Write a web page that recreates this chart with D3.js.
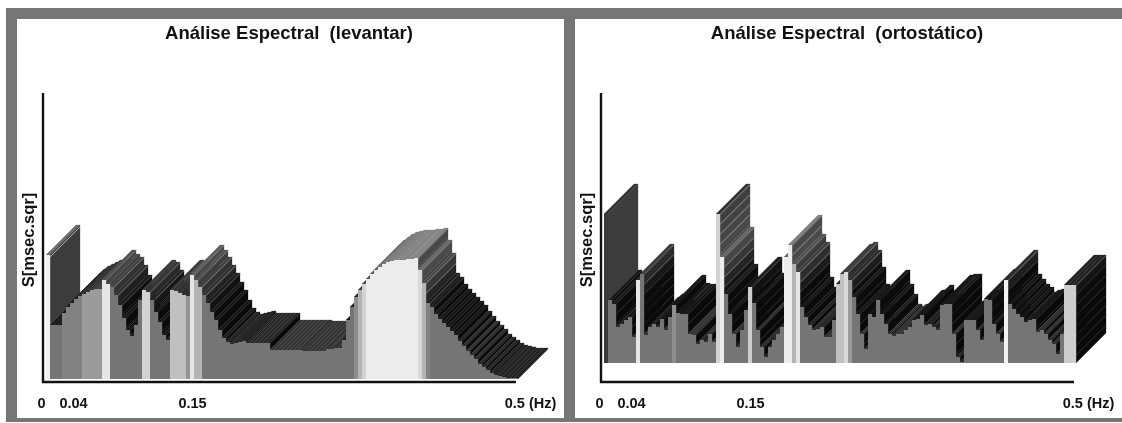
<!DOCTYPE html>
<html>
<head>
<meta charset="utf-8">
<script src="https://cdn.jsdelivr.net/npm/d3@7/dist/d3.min.js"></script>
<style>
  html, body { margin: 0; padding: 0; background: #fff; }
  svg { display: block; filter: blur(0.6px); }
  text { font-family: "Liberation Sans", Arial, sans-serif; fill: #111; white-space: pre; }
</style>
</head>
<body>
<svg id="chart" width="1122" height="423"></svg>
<script>
// spectrum, one value per frequency bin (arbitrary S units)
const levantar = [
  124, 54, 54, 54, 66, 72, 76, 80, 83, 85, 87, 89, 90, 90, 99, 95, 92, 84, 74, 61,
  49, 43, 54, 79, 89, 87, 79, 67, 57, 44, 39, 89, 88, 86, 84, 83, 104, 99, 92, 84,
  76, 67, 59, 49, 41, 37, 35, 36, 37, 38, 36, 36, 36, 36, 36, 36, 29, 29, 29, 29,
  29, 29, 29, 29, 28, 28, 28, 28, 28, 28, 30, 30, 31, 31, 39, 59, 72, 82, 89, 95,
  100, 105, 109, 112, 115, 117, 118, 119, 119, 119, 120, 120, 121, 109, 96, 76, 72, 65, 60, 56,
  52, 48, 44, 38, 33, 28, 24, 20, 15, 12, 9, 6, 4, 3, 2, 1, 1, 1
];
const ortostatico = [
  149, 63, 59, 36, 39, 43, 46, 26, 83, 89, 28, 36, 39, 36, 44, 33, 46, 58, 50, 49,
  49, 29, 28, 19, 23, 21, 29, 21, 149, 106, 69, 49, 29, 16, 33, 53, 76, 60, 33, 16,
  6, 16, 23, 29, 36, 106, 118, 99, 91, 56, 46, 38, 33, 34, 36, 26, 26, 43, 79, 89,
  91, 83, 66, 49, 29, 14, 49, 46, 63, 49, 39, 29, 27, 29, 29, 33, 36, 43, 44, 48,
  38, 39, 36, 33, 58, 59, 59, 29, 6, 1, 43, 43, 43, 33, 23, 64, 63, 39, 29, 21,
  83, 59, 54, 49, 46, 41, 43, 44, 31, 33, 29, 23, 19, 9, 29, 78, 78, 78
];
// brightness of the front wall: [first bin, last bin, level]
const levantarBands = [
  [0, 0, 1], [4, 8, 0.1], [9, 13, 0.3], [14, 15, 0.9], [24, 25, 0.75], [31, 34, 0.6],
  [35, 35, 0.25], [36, 36, 0.9], [37, 38, 0.5], [77, 77, 0.2], [78, 78, 0.5], [79, 79, 0.75],
  [80, 92, 0.95], [93, 93, 0.8], [94, 94, 0.5], [95, 95, 0.1]
];
const ortostaticoBands = [
  [0, 0, -0.7], [8, 8, 0.9], [17, 17, 0.2], [28, 28, 0.75], [29, 29, 0.95], [36, 36, 0.7],
  [45, 46, 0.95], [47, 47, 0.5], [48, 48, 0.9], [58, 59, 0.6], [60, 60, 0.8], [61, 61, 0.3],
  [100, 100, 1], [115, 117, 0.7]
];
const tickValues = [0, 0.04, 0.15, 0.5];
const tickLabels = ["0", "0.04", "0.15", "0.5 (Hz)"];

const svg = d3.select("#chart");
const depth = 30;
const binW = 4;
const sMax = 286;
const sliceH = 10;

// frame
svg.append("rect").attr("x", 6).attr("y", 8).attr("width", 1116).attr("height", 414).attr("fill", "#767676");
svg.append("rect").attr("x", 17).attr("y", 19).attr("width", 547).attr("height", 399).attr("fill", "#fff");
svg.append("rect").attr("x", 575).attr("y", 19).attr("width", 547).attr("height", 399).attr("fill", "#fff");

const topColor = d3.scaleLinear()
  .domain([0, 30, 45, 75, 100, 121, 130])
  .range(["#222", "#363636", "#161616", "#1c1c1c", "#555", "#888", "#333"])
  .clamp(true);
const wallColor = d3.scaleLinear()
  .domain([0, 68, 85, 105, 150])
  .range(["#090909", "#0b0b0b", "#2c2c2c", "#4c4c4c", "#3c3c3c"])
  .clamp(true);
const lineColor = d3.scaleLinear()
  .domain([0, 68, 82, 125])
  .range(["#222", "#262626", "#8c8c8c", "#999"])
  .clamp(true);
const frontColor = d3.scaleLinear().domain([-1, 0, 1]).range(["#222", "#757575", "#f2f2f2"]);

function drawPanel(offset, baseline, title, values, bands) {
  const g = svg.append("g").attr("transform", `translate(${offset},0)`);
  const x = d3.scaleLinear().domain([0, values.length]).range([46, 46 + binW * values.length]);
  const y = d3.scaleLinear().domain([0, sMax]).range([baseline, baseline - sMax]);
  const freq = d3.scaleLinear().domain(tickValues).range([41, 73, 192, 530]);

  const level = i => {
    const b = bands.find(d => i >= d[0] && i <= d[1]);
    return b ? b[2] : 0;
  };
  const bins = values.map((s, i) => ({i, s, next: i + 1 < values.length ? values[i + 1] : 0}));

  const bin = g.selectAll("g.bin").data(bins).join("g").attr("class", "bin");

  // top of the bin, running back and to the right
  bin.append("path")
    .attr("d", d => {
      const x0 = x(d.i), x1 = x(d.i + 1), yy = y(d.s);
      return `M${x0},${yy}L${x1},${yy}L${x1 + depth},${yy - depth}L${x0 + depth},${yy - depth}Z`;
    })
    .attr("fill", d => topColor(d.s))
    .attr("stroke", d => topColor(d.s))
    .attr("stroke-width", 0.3);

  // right wall where the spectrum drops, cut in slices shaded by height
  const slices = d => {
    if (d.next >= d.s) return [];
    if (d.i === 0) return [{i: d.i, lo: d.next, hi: d.s, mid: 150, plain: true}];
    const out = [];
    for (let hi = d.s; hi > d.next; hi -= sliceH) {
      const lo = Math.max(d.next, hi - sliceH);
      out.push({i: d.i, lo, hi, mid: (lo + hi) / 2, plain: false});
    }
    return out;
  };
  bin.selectAll("path.wall").data(slices).join("path")
    .attr("class", "wall")
    .attr("d", d => {
      const x1 = x(d.i + 1), a = y(d.hi), b = y(d.lo);
      return `M${x1},${a}L${x1},${b}L${x1 + depth},${b - depth}L${x1 + depth},${a - depth}Z`;
    })
    .attr("fill", d => wallColor(d.mid))
    .attr("stroke", d => wallColor(d.mid))
    .attr("stroke-width", 0.3);

  // thin line along the top of each slice
  bin.selectAll("line.edge").data(d => slices(d).filter(e => !e.plain && e.hi - e.lo > 3)).join("line")
    .attr("class", "edge")
    .attr("x1", d => x(d.i + 1))
    .attr("y1", d => y(d.hi) + 0.6)
    .attr("x2", d => x(d.i + 1) + depth)
    .attr("y2", d => y(d.hi) - depth + 0.6)
    .attr("stroke", d => lineColor(d.hi))
    .attr("stroke-width", 0.8);

  // pale line under the top of the first block on the left panel
  bin.filter(d => d.i === 0 && d.s < 130).append("line")
    .attr("x1", d => x(d.i + 1))
    .attr("y1", d => y(d.s) + 2)
    .attr("x2", d => x(d.i + 1) + depth)
    .attr("y2", d => y(d.s) - depth + 2)
    .attr("stroke", "#b0b0b0")
    .attr("stroke-width", 1);

  // front wall
  bin.append("rect")
    .attr("x", d => x(d.i))
    .attr("y", d => y(d.s))
    .attr("width", binW + 0.2)
    .attr("height", d => y(0) - y(d.s))
    .attr("fill", d => frontColor(level(d.i)));

  // axes
  const axisLine = (x1, y1, x2, y2) => g.append("line")
    .attr("x1", x1).attr("y1", y1).attr("x2", x2).attr("y2", y2)
    .attr("stroke", "#111").attr("stroke-width", 2.4);
  axisLine(43, 93, 43, 383);
  axisLine(42, 382, 516, 382);

  const axis = d3.axisBottom(freq).tickValues(tickValues).tickSize(0).tickFormat((d, i) => tickLabels[i]);
  const ax = g.append("g").attr("transform", "translate(0,395)").call(axis);
  ax.select(".domain").remove();
  ax.selectAll("text").attr("font-size", 14.5).attr("font-weight", "bold").attr("font-family", "Liberation Sans");

  g.append("text")
    .attr("x", 289).attr("y", 39)
    .attr("text-anchor", "middle")
    .attr("font-size", 18.5).attr("font-weight", "bold")
    .text(title);

  g.append("text")
    .attr("transform", "translate(34,240) rotate(-90)")
    .attr("text-anchor", "middle")
    .attr("font-size", 16.5).attr("font-weight", "bold")
    .text("S[msec.sqr]");
}

drawPanel(0, 379, "Análise Espectral  (levantar)", levantar, levantarBands);
drawPanel(558, 363, "Análise Espectral  (ortostático)", ortostatico, ortostaticoBands);
</script>
</body>
</html>
